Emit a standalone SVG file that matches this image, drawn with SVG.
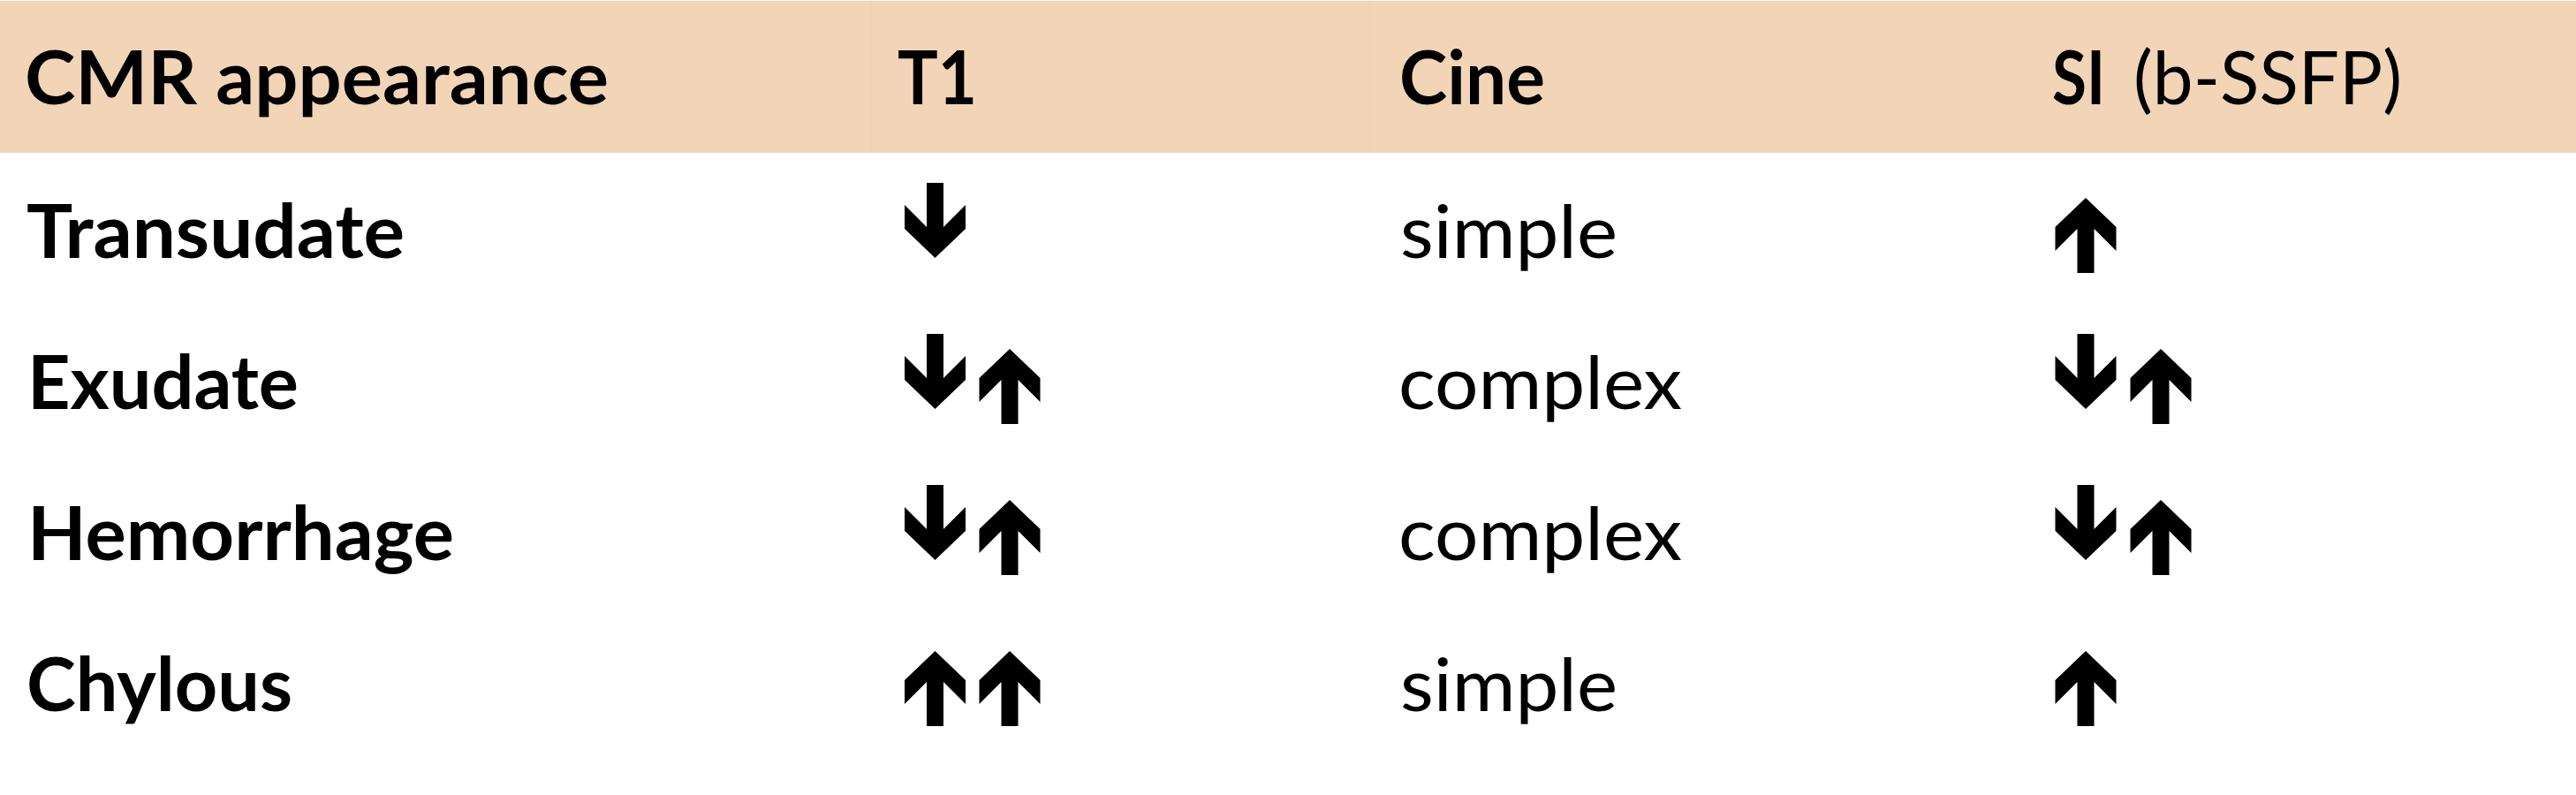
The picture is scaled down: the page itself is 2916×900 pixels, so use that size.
<svg xmlns="http://www.w3.org/2000/svg" xmlns:xlink="http://www.w3.org/1999/xlink" width="2916" height="900" viewBox="0 0 2916 900">
<style>
text{font-family:Lato,"Open Sans","Liberation Sans",sans-serif;font-size:84px;fill:#000}
.b{font-weight:700}
.r{font-weight:400}
.arrow{fill:#000}
</style>
<defs>
<path id="dn" class="arrow" d="M-9.5,-85 H9.5 V-35 L34.5,-60 V-33 L0,0 L-34.5,-33 V-60 L-9.5,-35 Z"/>
<path id="up" class="arrow" d="M-9.5,85 H9.5 V35 L34.5,60 V33 L0,0 L-34.5,33 V60 L-9.5,35 Z"/>
</defs>
<rect x="0" y="0" width="2916" height="900" fill="#fff"/>
<g id="header">
<rect x="0" y="1" width="2916" height="172" fill="#F2D4B7"/>
<rect x="985" y="1" width="2" height="172" fill="#F0D2B5"/>
<rect x="1550" y="1" width="2" height="172" fill="#F0D2B5"/>
<text class="b" x="28" y="118" textLength="661" lengthAdjust="spacingAndGlyphs">CMR appearance</text>
<text class="b" x="1016" y="118" textLength="90" lengthAdjust="spacingAndGlyphs">T1</text>
<text class="b" x="1584" y="118" textLength="165" lengthAdjust="spacingAndGlyphs">Cine</text>
<text y="118"><tspan class="b" x="2323" textLength="60" lengthAdjust="spacingAndGlyphs">SI</tspan> <tspan class="r" x="2415" textLength="304" lengthAdjust="spacingAndGlyphs">(b-SSFP)</tspan></text>
</g>
<g id="row-transudate">
<text class="b" x="30" y="292" textLength="428" lengthAdjust="spacingAndGlyphs">Transudate</text>
<use xlink:href="#dn" href="#dn" x="1058.5" y="292"/>
<text class="r" x="1585" y="292" textLength="246" lengthAdjust="spacingAndGlyphs">simple</text>
<use xlink:href="#up" href="#up" x="2361" y="224"/>
</g>
<g id="row-exudate">
<text class="b" x="31" y="463" textLength="307" lengthAdjust="spacingAndGlyphs">Exudate</text>
<use xlink:href="#dn" href="#dn" x="1058.5" y="463"/>
<use xlink:href="#up" href="#up" x="1143" y="395"/>
<text class="r" x="1583" y="463" textLength="321" lengthAdjust="spacingAndGlyphs">complex</text>
<use xlink:href="#dn" href="#dn" x="2361" y="463"/>
<use xlink:href="#up" href="#up" x="2446" y="395"/>
</g>
<g id="row-hemorrhage">
<text class="b" x="31" y="634" textLength="483" lengthAdjust="spacingAndGlyphs">Hemorrhage</text>
<use xlink:href="#dn" href="#dn" x="1058.5" y="634"/>
<use xlink:href="#up" href="#up" x="1143" y="566"/>
<text class="r" x="1583" y="634" textLength="321" lengthAdjust="spacingAndGlyphs">complex</text>
<use xlink:href="#dn" href="#dn" x="2361" y="634"/>
<use xlink:href="#up" href="#up" x="2446" y="566"/>
</g>
<g id="row-chylous">
<text class="b" x="30" y="805" textLength="301" lengthAdjust="spacingAndGlyphs">Chylous</text>
<use xlink:href="#up" href="#up" x="1058.5" y="737"/>
<use xlink:href="#up" href="#up" x="1143" y="737"/>
<text class="r" x="1585" y="805" textLength="246" lengthAdjust="spacingAndGlyphs">simple</text>
<use xlink:href="#up" href="#up" x="2361" y="737"/>
</g>
<g id="connectors"/>
</svg>
